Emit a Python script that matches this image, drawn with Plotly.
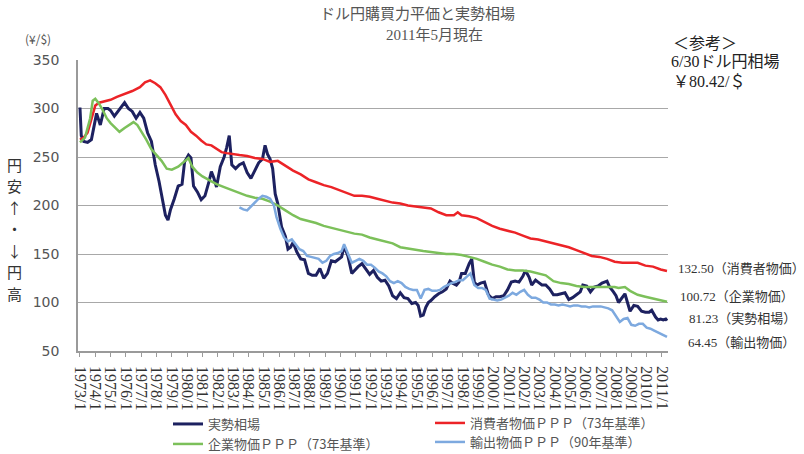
import plotly.graph_objects as go

# ---------------- data ----------------
navy_dates = ["1973-01","1973-02","1973-04","1973-07","1973-10","1973-12","1974-02","1974-05","1974-08","1974-11",
              "1975-01","1975-04","1975-07","1975-10","1975-12","1976-03","1976-06","1976-09","1976-12","1977-03",
              "1977-06","1977-09","1977-12","1978-03","1978-05","1978-08","1978-10","1978-12","1979-03","1979-06",
              "1979-09","1979-11","1980-02","1980-04","1980-06","1980-09","1980-12","1981-03","1981-06","1981-08",
              "1981-10","1981-12","1982-03","1982-06","1982-08","1982-10","1982-12","1983-03","1983-06","1983-09",
              "1983-12","1984-03","1984-06","1984-09","1984-12","1985-02","1985-04","1985-06","1985-08","1985-10",
              "1985-12","1986-03","1986-06","1986-08","1986-10","1986-12","1987-03","1987-06","1987-09","1987-12",
              "1988-03","1988-06","1988-09","1988-12","1989-03","1989-06","1989-09","1989-12","1990-02","1990-04",
              "1990-07","1990-10","1990-12","1991-03","1991-06","1991-09","1991-12","1992-03","1992-06","1992-09",
              "1992-12","1993-03","1993-06","1993-09","1993-12","1994-03","1994-06","1994-09","1994-12","1995-02",
              "1995-04","1995-06","1995-08","1995-10","1995-12","1996-03","1996-06","1996-09","1996-12","1997-03",
              "1997-05","1997-08","1997-10","1997-12","1998-03","1998-06","1998-08","1998-10","1998-12","1999-03",
              "1999-06","1999-09","1999-12","2000-03","2000-06","2000-09","2000-12","2001-03","2001-06","2001-09",
              "2001-12","2002-02","2002-05","2002-07","2002-10","2002-12","2003-03","2003-06","2003-09","2003-12",
              "2004-03","2004-06","2004-09","2004-12","2005-03","2005-06","2005-09","2005-11","2006-02","2006-05",
              "2006-08","2006-11","2007-02","2007-06","2007-08","2007-11","2008-01","2008-03","2008-06","2008-08",
              "2008-10","2008-12","2009-03","2009-06","2009-09","2009-12","2010-03","2010-05","2010-08","2010-10",
              "2010-12","2011-02","2011-04","2011-05"]
navy_vals = [301,272,266,265,268,282,295,283,300,300,
             298,292,297,303,306,300,297,290,296,290,
             275,266,242,225,210,190,185,196,207,220,
             222,245,252,249,220,214,206,210,224,235,
             228,219,240,250,260,272,242,238,242,244,
             234,228,236,244,248,262,253,248,238,212,
             202,178,168,155,157,162,152,145,144,130,
             128,128,135,125,130,143,142,145,147,158,
             148,130,133,137,140,134,129,133,126,122,
             123,117,107,104,110,105,104,99,100,97,
             86,87,95,100,102,106,109,111,114,122,
             120,118,121,130,130,140,145,121,118,120,
             121,108,104,106,106,107,113,121,122,121,
             127,133,126,118,123,121,118,118,114,108,
             108,109,110,103,105,108,111,118,117,111,
             116,117,120,122,116,111,107,100,106,109,
             100,91,97,96,91,90,90,92,85,82,
             83,82,83,81.23]

red_dates = ["1973-01","1973-04","1973-07","1973-10","1974-01","1974-04","1974-07","1974-10","1975-01","1975-06",
             "1975-12","1976-06","1976-12","1977-04","1977-08","1977-12","1978-04","1978-08","1978-12","1979-04",
             "1979-08","1979-12","1980-04","1980-08","1980-12","1981-04","1981-08","1981-12","1982-04","1982-08",
             "1982-12","1983-06","1983-12","1984-06","1984-12","1985-06","1985-12","1986-06","1986-12","1987-06",
             "1987-12","1988-06","1988-12","1989-06","1989-12","1990-06","1990-12","1991-06","1991-12","1992-06",
             "1992-12","1993-06","1993-12","1994-06","1994-12","1995-06","1995-12","1996-06","1996-12","1997-06",
             "1997-09","1997-12","1998-06","1998-12","1999-06","1999-12","2000-06","2000-12","2001-06","2001-12",
             "2002-06","2002-12","2003-06","2003-12","2004-06","2004-12","2005-06","2005-12","2006-06","2006-12",
             "2007-06","2007-12","2008-06","2008-12","2009-06","2009-12","2010-06","2010-12","2011-05"]
red_vals = [268,270,275,290,303,306,307,308,309,312,
            315,318,322,327,329,326,322,314,304,294,
            287,283,276,272,267,263,262,258,255,254,
            253,252,251,249,248,245,246,241,236,232,
            227,224,221,219,216,213,210,210,209,207,
            205,203,202,200,199,198,197,193,190,190,
            193,190,189,187,183,179,176,174,172,169,
            166,165,163,161,159,157,154,151,148,147,
            145,142,141,141,141,138,137,134,132.5]

green_dates = ["1973-01","1973-05","1973-09","1973-11","1974-01","1974-04","1974-07","1974-10","1975-01","1975-05",
               "1975-08","1975-12","1976-04","1976-07","1976-10","1977-01","1977-05","1977-09","1978-01","1978-05",
               "1978-09","1979-01","1979-06","1979-10","1980-02","1980-05","1980-09","1981-01","1981-06","1981-12",
               "1982-06","1982-12","1983-06","1983-12","1984-06","1984-12","1985-06","1985-12","1986-06","1986-12",
               "1987-06","1987-12","1988-06","1988-12","1989-06","1989-12","1990-06","1990-12","1991-06","1991-12",
               "1992-06","1992-12","1993-06","1993-12","1994-06","1994-12","1995-06","1995-12","1996-06","1996-12",
               "1997-06","1997-12","1998-06","1998-12","1999-06","1999-12","2000-06","2000-12","2001-06","2001-12",
               "2002-06","2002-12","2003-06","2003-12","2004-06","2004-12","2005-06","2005-12","2006-06","2006-12",
               "2007-06","2007-12","2008-03","2008-08","2008-12","2009-06","2009-12","2010-06","2010-12","2011-05"]
green_vals = [265,270,290,308,310,305,298,290,285,280,
              276,280,283,286,283,277,268,258,252,246,
              238,237,240,244,249,240,234,230,226,222,
              219,216,213,210,208,207,204,200,195,190,
              186,184,182,179,177,175,173,171,170,167,
              165,163,161,157,155.5,154,153,152,151,150,
              150,149,147,145,142,139,137,134,133,133,
              132,130,128,122,120,119,117,116,116,116,
              116,116,115,116,112,108,106,104,102,100.72]

blue_dates = ["1983-06","1983-09","1983-12","1984-03","1984-06","1984-09","1984-12","1985-03","1985-06","1985-09",
              "1985-11","1986-02","1986-05","1986-08","1986-11","1987-02","1987-05","1987-08","1987-11","1988-02",
              "1988-05","1988-08","1988-11","1989-02","1989-05","1989-08","1989-11","1990-02","1990-04","1990-07",
              "1990-10","1991-01","1991-04","1991-07","1991-10","1992-01","1992-04","1992-07","1992-10","1993-01",
              "1993-04","1993-07","1993-10","1994-01","1994-04","1994-07","1994-10","1995-01","1995-04","1995-07",
              "1995-10","1996-01","1996-04","1996-07","1996-10","1997-01","1997-04","1997-07","1997-10","1998-01",
              "1998-04","1998-07","1998-10","1999-01","1999-04","1999-07","1999-10","2000-01","2000-04","2000-07",
              "2000-10","2001-01","2001-04","2001-07","2001-10","2002-01","2002-04","2002-07","2002-10","2003-01",
              "2003-04","2003-07","2003-10","2004-01","2004-04","2004-07","2004-10","2005-01","2005-04","2005-07",
              "2005-10","2006-01","2006-04","2006-07","2006-10","2007-01","2007-04","2007-07","2007-10","2008-01",
              "2008-04","2008-07","2008-10","2009-01","2009-04","2009-07","2009-10","2010-01","2010-04","2010-07",
              "2010-10","2011-01","2011-05"]
blue_vals = [198,196,195,199,203,207,210,209,207,200,
             188,176,167,163,165,160,155,153,148,147,
             146,145,141,143,148,150,151,153,160,150,
             141,143,145,143,139,139,136,132,130,127,
             122,120,122,120,116,114,113,113,104,113,
             114,112,112,113,116,118,120,121,123,123,
             127,130,118,115,115,113,104,103,102,103,
             105,107,110,108,111,113,108,105,105,103,
             100,100,98,98,97,98,97,96,97,97,
             96,96,95,96,96,96,95,94,92,86,
             80,83,84,77,76,78,78,74,73,71,
             69,67,64.45]

series_names = ["実勢相場", "消費者物価ＰＰＰ（73年基準）", "企業物価ＰＰＰ（73年基準）", "輸出物価ＰＰＰ（90年基準）"]
y_ticks = [50, 100, 150, 200, 250, 300, 350]
end_labels = ["132.50（消費者物価）", "100.72（企業物価）", "81.23（実勢相場）", "64.45（輸出物価）"]
side_chars = list("円安↑・↓円高")

# ---------------- layout helpers ----------------
W, H = 804, 454
ML, MR, MT, MB = 78, 136, 60, 103
PW, PH = W - ML - MR, H - MT - MB


def px(x):
    return (x - ML) / PW


def py(y):
    return (H - MB - y) / PH


JP = "Noto Sans CJK JP"
SERIF_JP = "Liberation Serif, Noto Sans CJK JP"

colors = ["#1d2160", "#ec2327", "#7cc05a", "#7da9df"]
widths = [3, 2.5, 2.5, 2.5]
xs = [navy_dates, red_dates, green_dates, blue_dates]
ys = [navy_vals, red_vals, green_vals, blue_vals]
leg_ids = ["legend", "legend2", "legend3", "legend4"]
leg_pos = [(168, 424), (430, 423), (168, 444), (430, 442)]

fig = go.Figure()
for xx, yy, nm, c, w, lid in zip(xs, ys, series_names, colors, widths, leg_ids):
    fig.add_trace(go.Scatter(x=xx, y=yy, mode="lines", name=nm,
                             line=dict(color=c, width=w), legend=lid))

legends = {}
for lid, (lx, ly) in zip(leg_ids, leg_pos):
    legends[lid] = dict(orientation="h", xref="container", yref="container",
                        x=lx / W, y=1 - ly / H, xanchor="left", yanchor="middle",
                        bgcolor="rgba(0,0,0,0)", borderwidth=0,
                        font=dict(family=JP, size=13, color="#555"))

annotations = [
    dict(text="ドル円購買力平価と実勢相場", x=px(417), y=py(14), font=dict(family=SERIF_JP, size=15, color="#555")),
    dict(text="2011年5月現在", x=px(434), y=py(35), font=dict(family=SERIF_JP, size=15, color="#555")),
    dict(text="(¥/$)", x=px(38), y=py(38), font=dict(family=JP, size=12, color="#555")),
    dict(text="＜参考＞", x=px(671), y=py(42), xanchor="left", font=dict(family=JP, size=16, color="#222")),
    dict(text="6/30ドル円相場", x=px(669), y=py(62), xanchor="left", font=dict(family=SERIF_JP, size=16, color="#222")),
    dict(text="￥80.42/＄", x=px(671), y=py(82), xanchor="left", font=dict(family=SERIF_JP, size=16, color="#222")),
]
side_y = [164, 185.5, 207, 228.5, 250, 271.5, 293]
for ch, yy in zip(side_chars, side_y):
    annotations.append(dict(text=ch, x=px(14), y=py(yy),
                            font=dict(family=JP, size=15, color="#333")))
end_y = [268, 296, 318, 342]
end_x = [676, 678, 687, 686]
for t, xx, yy in zip(end_labels, end_x, end_y):
    annotations.append(dict(text=t, x=px(xx), y=py(yy), xanchor="left",
                            font=dict(family=SERIF_JP, size=13, color="#333")))
for a in annotations:
    a.update(xref="paper", yref="paper", showarrow=False)
    a.setdefault("xanchor", "center")
    a["yanchor"] = "middle"

fig.update_layout(
    width=W, height=H,
    margin=dict(l=ML, r=MR, t=MT, b=MB, autoexpand=False),
    paper_bgcolor="white", plot_bgcolor="white",
    showlegend=True,
    annotations=annotations,
    xaxis=dict(type="date", range=["1972-11-15", "2011-05-25"], dtick="M12", tick0="1973-01-01",
               tickformat="%Y/%-m", tickangle=90, showgrid=False, showline=True, linecolor="#9a9a9a",
               linewidth=1.5, ticks="outside", ticklen=4, tickcolor="#9a9a9a",
               tickfont=dict(family="Liberation Serif", size=16, color="#333"), ticklabelstandoff=6),
    yaxis=dict(range=[50, 350], tickvals=y_ticks, showgrid=True, gridcolor="#a8a8a8", gridwidth=1.3,
               showline=True, linecolor="#9a9a9a", linewidth=1.5, zeroline=False,
               tickfont=dict(family="DejaVu Sans", size=14, color="#555"), ticklabelstandoff=14),
    **legends,
)

fig.write_html("out.html")
